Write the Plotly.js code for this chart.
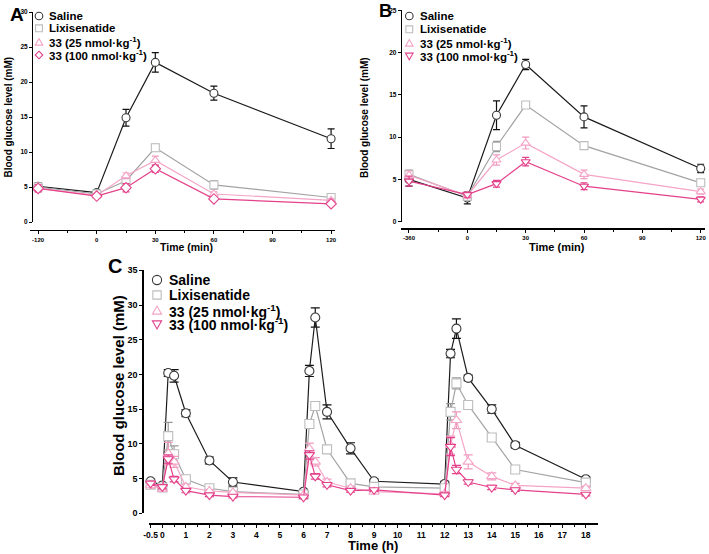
<!DOCTYPE html>
<html><head><meta charset="utf-8">
<script src="https://cdn.plot.ly/plotly-3.0.1.min.js"></script>
<style>html,body{margin:0;padding:0;background:#fff}</style>
</head><body><div id="chart" style="width:709px;height:554px"></div>
<script>
// ---------- data ----------
const seriesNames = ['Saline', 'Lixisenatide', '33 (25 nmol·kg<sup>-1</sup>)', '33 (100 nmol·kg<sup>-1</sup>)'];

// Panel A (time in min; first point is the -120 min baseline shown at the axis break)
const timeA = [-120, 0, 15, 30, 60, 120];
const tickValsA = [-120, 0, 30, 60, 90, 120];
const salineA = [5.1, 4.2, 14.9, 22.8, 18.4, 11.9];
const salineAErr = [0.5, 0.2, 1.2, 1.4, 1.0, 1.4];
const lixA = [5.0, 4.0, 5.9, 10.6, 5.3, 3.5];
const lixAErr = [0.6, 0.2, 0.5, 0.5, 0.6, 0.3];
const dose25A = [4.8, 3.8, 6.6, 8.8, 4.0, 3.1];
const dose25AErr = [0.5, 0.2, 0.4, 0.6, 0.3, 0.2];
const dose100A = [4.8, 3.7, 4.9, 7.6, 3.3, 2.6];
const dose100AErr = [0.5, 0.2, 0.6, 0.5, 0.2, 0.2];

// Panel B (first point is the -360 min baseline)
const timeB = [-360, 0, 15, 30, 60, 120];
const tickValsB = [-360, 0, 30, 60, 90, 120];
const salineB = [5.0, 2.8, 12.6, 18.6, 12.4, 6.3];
const salineBErr = [0.8, 0.7, 1.7, 0.6, 1.3, 0.5];
const lixB = [5.6, 3.0, 8.9, 13.8, 9.0, 4.6];
const lixBErr = [0.5, 0.3, 0.6, 0.3, 0.4, 0.3];
const dose25B = [5.5, 3.1, 7.3, 9.3, 5.6, 3.55];
const dose25BErr = [0.5, 0.3, 0.6, 0.7, 0.5, 0.3];
const dose100B = [4.8, 3.2, 4.5, 7.1, 4.2, 2.65];
const dose100BErr = [0.6, 0.3, 0.4, 0.5, 0.4, 0.3];

// Panel C (time in h)
const timeC = [-0.5, 0, 0.25, 0.5, 1, 2, 3, 6, 6.25, 6.5, 7, 8, 9, 12, 12.25, 12.5, 13, 14, 15, 18];
const tickValsC = [-0.5, 0, 1, 2, 3, 4, 5, 6, 7, 8, 9, 10, 11, 12, 13, 14, 15, 16, 17, 18];
const salineC = [4.6, 4.0, 20.2, 19.8, 14.4, 7.6, 4.5, 3.1, 20.5, 28.2, 14.6, 9.35, 4.6, 4.2, 23.0, 26.6, 19.5, 15.0, 9.8, 4.9];
const salineCErr = [0.3, 0.3, 0.5, 0.9, 0.5, 0.5, 0.6, 0.2, 0.8, 1.4, 1.0, 0.8, 0.3, 0.4, 0.6, 1.4, 0.4, 0.6, 0.4, 0.3];
const lixC = [4.1, 3.7, 11.1, 8.5, 4.9, 3.6, 3.1, 2.7, 12.85, 15.45, 9.2, 4.3, 3.8, 3.6, 14.6, 18.7, 15.6, 10.9, 6.3, 4.4];
const lixCErr = [0.3, 0.3, 2.0, 1.2, 0.4, 0.3, 0.3, 0.2, 0.6, 0.6, 0.4, 0.3, 0.3, 0.3, 1.2, 0.8, 0.4, 0.5, 0.4, 0.3];
const dose25C = [4.0, 3.5, 8.6, 7.4, 3.8, 3.2, 3.0, 2.6, 9.3, 7.4, 4.5, 3.6, 3.1, 2.8, 9.8, 13.4, 7.4, 5.3, 4.0, 3.6];
const dose25CErr = [0.4, 0.3, 1.6, 0.8, 0.3, 0.2, 0.2, 0.2, 0.8, 0.6, 0.4, 0.3, 0.3, 0.3, 1.3, 1.2, 1.0, 0.5, 0.3, 0.3];
const dose100C = [4.3, 3.8, 7.8, 4.9, 3.25, 2.6, 2.4, 2.3, 8.4, 5.3, 4.1, 3.25, 3.35, 2.6, 9.6, 6.3, 4.5, 3.7, 3.35, 2.7];
const dose100CErr = [0.3, 0.3, 0.6, 0.4, 0.3, 0.2, 0.2, 0.2, 0.6, 0.4, 0.3, 0.2, 0.2, 0.2, 1.3, 0.6, 0.3, 0.3, 0.2, 0.2];

// ---------- styling ----------
const W = 709, H = 554;
const FONT = 'Liberation Sans, Arial, sans-serif';
const px = v => v / W, py = v => 1 - v / H;
const lineColors = ['#1c1c1c', '#a3a3a3', '#f4a4c6', '#e4418b'];
const markerColors = ['#3a3a3a', '#bdbdbd', '#f4a4c6', '#e4418b'];
const errColors = ['#111111', '#9a9a9a', '#f09ac0', '#e4418b'];
const symbolsA = ['circle', 'square', 'triangle-up', 'diamond'];
const symbolsBC = ['circle', 'square', 'triangle-up', 'triangle-down'];
const BREAK_POS = -30; // axis position of the pre-treatment baseline point (broken axis)

const mapBreak = t => (t < 0 ? BREAK_POS : t);

function trace(x, y, err, i, xa, ya, symbols, msize, capw) {
  return {
    type: 'scatter', mode: 'lines+markers', x, y, xaxis: xa, yaxis: ya,
    name: seriesNames[i], showlegend: false, cliponaxis: false,
    line: {color: lineColors[i], width: 1.2},
    marker: {symbol: symbols[i], size: msize, color: '#ffffff', line: {color: markerColors[i], width: 1.1}},
    error_y: {type: 'data', array: err, visible: true, color: errColors[i], thickness: 1.2, width: capw}
  };
}

const traces = [
  trace(timeA.map(mapBreak), salineA, salineAErr, 0, 'x', 'y', symbolsA, 8, 3.5),
  trace(timeA.map(mapBreak), lixA, lixAErr, 1, 'x', 'y', symbolsA, 8, 3.5),
  trace(timeA.map(mapBreak), dose25A, dose25AErr, 2, 'x', 'y', symbolsA, 8, 3.5),
  trace(timeA.map(mapBreak), dose100A, dose100AErr, 3, 'x', 'y', symbolsA, 8, 3.5),
  trace(timeB.map(mapBreak), salineB, salineBErr, 0, 'x2', 'y2', symbolsBC, 8, 3.5),
  trace(timeB.map(mapBreak), lixB, lixBErr, 1, 'x2', 'y2', symbolsBC, 8, 3.5),
  trace(timeB.map(mapBreak), dose25B, dose25BErr, 2, 'x2', 'y2', symbolsBC, 8, 3.5),
  trace(timeB.map(mapBreak), dose100B, dose100BErr, 3, 'x2', 'y2', symbolsBC, 8, 3.5),
  trace(timeC, salineC, salineCErr, 0, 'x3', 'y3', symbolsBC, 9, 4.5),
  trace(timeC, lixC, lixCErr, 1, 'x3', 'y3', symbolsBC, 9, 4.5),
  trace(timeC, dose25C, dose25CErr, 2, 'x3', 'y3', symbolsBC, 9, 4.5),
  trace(timeC, dose100C, dose100CErr, 3, 'x3', 'y3', symbolsBC, 9, 4.5)
];

function xAxis(range, domPx, linePy, tickvals, ticktext, minorVals, fsize) {
  return {
    range, domain: [px(domPx[0]), px(domPx[1])], anchor: 'free', position: py(linePy),
    showline: true, linecolor: '#000', linewidth: 1.4, ticks: 'outside', ticklen: 3, tickwidth: 1, tickcolor: '#000',
    tickmode: 'array', tickvals, ticktext, tickangle: 0, showgrid: false, zeroline: false, fixedrange: true,
    tickfont: {family: FONT, size: fsize, color: '#000', weight: 'bold'},
    minor: {tickmode: 'array', tickvals: minorVals, ticks: 'outside', ticklen: 2, tickwidth: 1, tickcolor: '#000', showgrid: false}
  };
}
function yAxis(range, y0px, yTopPx, linePx, fsize) {
  return {
    range, domain: [py(y0px), py(yTopPx)], anchor: 'free', position: px(linePx),
    showline: true, linecolor: '#000', linewidth: 1.4, ticks: 'outside', ticklen: 3, tickwidth: 1, tickcolor: '#000',
    tick0: 0, dtick: 5, showgrid: false, zeroline: false, fixedrange: true,
    tickfont: {family: FONT, size: fsize, color: '#000', weight: 'bold'}
  };
}

const minorAB = [-15, 15, 45, 75, 105];
const minorC = tickValsC.slice(1).map(v => v + 0.5).filter(v => v < 18.5);

const layout = {
  width: W, height: H, margin: {l: 0, r: 0, t: 0, b: 0},
  paper_bgcolor: '#fff', plot_bgcolor: 'rgba(0,0,0,0)', showlegend: false,
  font: {family: FONT, color: '#000'},
  xaxis: xAxis([-34, 122], [30.3, 335], 230, tickValsA.map(mapBreak), tickValsA.map(String), minorAB, 6),
  yaxis: yAxis([0, 30], 222, 12, 32, 6.5),
  xaxis2: xAxis([-34, 122], [401.2, 704.6], 228.3, tickValsB.map(mapBreak), tickValsB.map(String), minorAB, 6),
  yaxis2: yAxis([0, 25], 221.7, 10.4, 400.7, 6.5),
  xaxis3: xAxis([-0.55, 18.5], [149.4, 597.6], 523.3, tickValsC, tickValsC.map(String), minorC, 8.5),
  yaxis3: yAxis([0, 35], 513.2, 270.3, 142.3, 9),
  annotations: [],
  shapes: []
};

function ann(text, x, y, size, opts) {
  return Object.assign({text, xref: 'paper', yref: 'paper', x: px(x), y: py(y), showarrow: false,
    xanchor: 'center', yanchor: 'middle', font: {family: FONT, size, color: '#000'}}, opts || {});
}

// panel letters
layout.annotations.push(ann('<b>A</b>', 16.7, 14, 19));
layout.annotations.push(ann('<b>B</b>', 385.8, 10.5, 18));
layout.annotations.push(ann('<b>C</b>', 114.7, 266, 20));
// axis titles
layout.annotations.push(ann('<b>Time (min)</b>', 186.3, 247, 10.5));
layout.annotations.push(ann('<b>Time (min)</b>', 557, 247, 11));
layout.annotations.push(ann('<b>Time (h)</b>', 373, 545, 13));
layout.annotations.push(ann('<b>Blood glucose level (mM)</b>', 8, 117.5, 10, {textangle: -90}));
layout.annotations.push(ann('<b>Blood glucose level (mM)</b>', 364, 118, 10, {textangle: -90}));
layout.annotations.push(ann('<b>Blood glucose level (mM)</b>', 118, 386, 15, {textangle: -90}));

// legend key symbol (drawn as a paper-referenced shape)
function keySymbol(sym, cx, cy, r, color) {
  const base = {xref: 'paper', yref: 'paper', line: {color, width: 1.1}, fillcolor: '#ffffff', layer: 'above'};
  if (sym === 'circle') return Object.assign(base, {type: 'circle', x0: px(cx - r), x1: px(cx + r), y0: py(cy + r), y1: py(cy - r)});
  if (sym === 'square') return Object.assign(base, {type: 'rect', x0: px(cx - r * 0.9), x1: px(cx + r * 0.9), y0: py(cy + r * 0.9), y1: py(cy - r * 0.9)});
  let pts;
  if (sym === 'triangle-up') pts = [[cx, cy - r], [cx + r, cy + r * 0.75], [cx - r, cy + r * 0.75]];
  else if (sym === 'triangle-down') pts = [[cx, cy + r], [cx + r, cy - r * 0.75], [cx - r, cy - r * 0.75]];
  else pts = [[cx, cy - r], [cx + r, cy], [cx, cy + r], [cx - r, cy]];
  const path = 'M' + pts.map(p => px(p[0]) + ',' + py(p[1])).join('L') + 'Z';
  return Object.assign(base, {type: 'path', path});
}

function legend(symbols, gx, tx, rows, size, r) {
  rows.forEach((ry, i) => {
    layout.shapes.push(keySymbol(symbols[i], gx, ry, r, markerColors[i]));
    layout.annotations.push(ann('<b>' + seriesNames[i] + '</b>', tx, ry, size, {xanchor: 'left'}));
  });
}
legend(symbolsA, 39, 46.5, [16, 28.3, 42.3, 55], 11.5, 3.8);
legend(symbolsBC, 409.3, 417.5, [16, 29.3, 43.3, 56], 11.5, 3.8);
legend(symbolsBC, 157, 166.5, [280, 295, 310.7, 324.3], 14, 4.6);

Plotly.newPlot('chart', traces, layout, {staticPlot: true, displayModeBar: false});
</script>
</body></html>
